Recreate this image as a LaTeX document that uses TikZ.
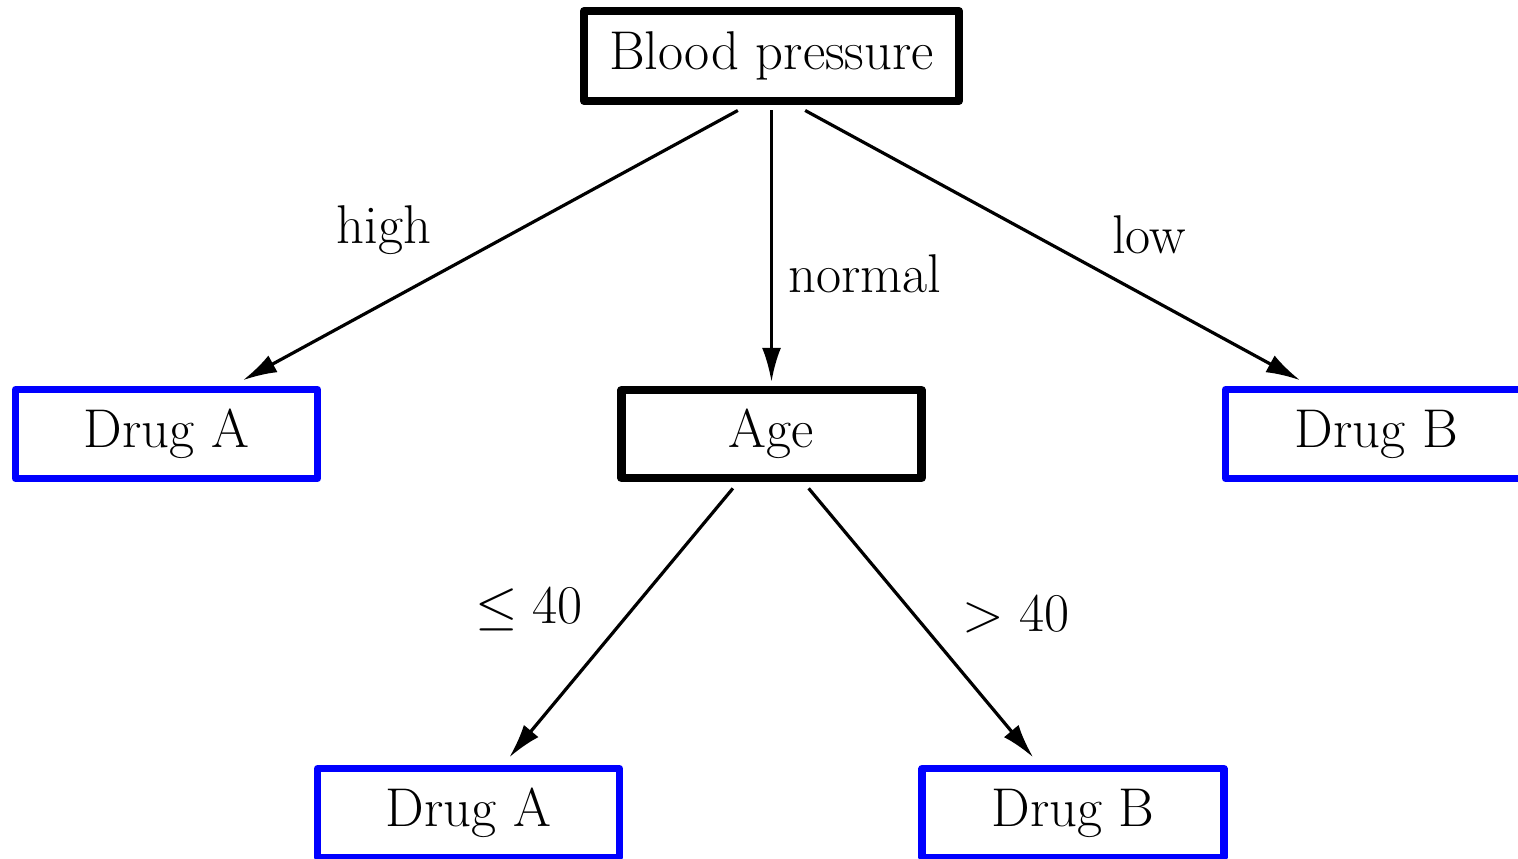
\documentclass[tikz,border=0pt]{standalone}
\usetikzlibrary{arrows.meta,calc}
\begin{document}
\begin{tikzpicture}[x=0.5pt,y=-0.5pt,
  every node/.style={font=\fontsize{27.3}{33}\selectfont},
  inner box/.style={draw=black,line width=4.2pt,line join=round,minimum width=150pt,minimum height=44pt,inner sep=0pt},
  leaf/.style={draw=blue,line width=3.6pt,line join=round,minimum width=151pt,minimum height=44.5pt,inner sep=0pt},
  lab/.style={anchor=base,inner sep=0pt},
  mathlab/.style={anchor=base,inner sep=0pt,font=\fontsize{24.88}{30}\selectfont,scale=1.097},
  arr/.style={line width=1.6pt,-{Latex[length=17pt,width=9.5pt]}}]
\useasboundingbox (0,0) rectangle (1518,858);
\clip (0,0) rectangle (1518,858);
\node[inner box,minimum width=0pt,inner xsep=12.5pt,minimum height=45pt] (bp) at (771.5,56) {Blood pressure};
\node[inner box] (age) at (771.5,434) {Age};
\node[leaf] (da1) at (166.5,434) {Drug A};
\node[leaf] (db1) at (1376.5,434) {Drug B};
\node[leaf] (da2) at (468.5,813) {Drug A};
\node[leaf] (db2) at (1073,813) {Drug B};
\draw[arr,shorten <=5.5pt,shorten >=6pt] ($(bp.south)+(-24,0)$) -- ($(da1.north)+(66,0)$);
\draw[arr,shorten <=2.5pt,shorten >=2pt] (bp.south) -- (age.north);
\draw[arr,shorten <=5.5pt,shorten >=6pt] ($(bp.south)+(24,0)$) -- ($(db1.north)+(-66,0)$);
\draw[arr,shorten <=4pt,shorten >=5pt] ($(age.south)+(-33.5,0)$) -- ($(da2.north)+(34.5,0)$);
\draw[arr,shorten <=4pt,shorten >=5pt] ($(age.south)+(32,0)$) -- ($(db2.north)+(-33.5,0)$);
\node[lab] (l1) at (384,243) {high};
\node[lab] (l2) at (865,292) {normal};
\node[lab] (l3) at (1149,253) {low};
\node[mathlab] (l4) at (529,623) {$\leq 40$};
\node[mathlab] (l5) at (1016,631) {$> 40$};
\end{tikzpicture}
\end{document}
